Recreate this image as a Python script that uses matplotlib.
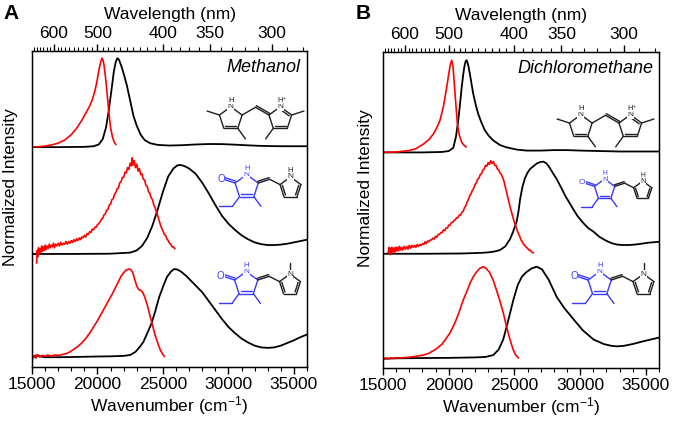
"""Absorption / emission spectra of dipyrrin and pyrrolinone-pyrrole dyes in two solvents."""

import matplotlib

matplotlib.use("Agg")
import matplotlib.pyplot as plt
import numpy as np
from matplotlib.ticker import MultipleLocator, FixedLocator

plt.rcParams["font.family"] = ["Liberation Sans", "DejaVu Sans"]
plt.rcParams["mathtext.fontset"] = "custom"
plt.rcParams["mathtext.rm"] = "Liberation Sans"
plt.rcParams["mathtext.default"] = "regular"

# ---------------------------------------------------------------- data
# wavenumber (cm-1), normalized intensity
nm_major = [600, 500, 400, 350, 300]
nm_minor = list(range(280, 680, 10))

# Panel A: methanol
a_top_em = np.array([
    [15000, 0.0], [15500, 0.005], [16000, 0.012], [16500, 0.025], [17000, 0.045],
    [17500, 0.08], [18000, 0.14], [18400, 0.21], [18800, 0.30], [19100, 0.38],
    [19400, 0.46], [19600, 0.53], [19800, 0.63], [19950, 0.73], [20100, 0.86],
    [20250, 0.96], [20350, 1.0], [20420, 0.98], [20500, 0.92], [20600, 0.80],
    [20700, 0.66], [20800, 0.50], [20900, 0.35], [21000, 0.22], [21150, 0.11],
    [21300, 0.05], [21400, 0.03],
])
a_top_abs = np.array([
    [15000, 0.0], [17000, 0.0], [19000, 0.003], [19700, 0.01], [20100, 0.03],
    [20400, 0.09], [20650, 0.22], [20850, 0.40], [21050, 0.62], [21250, 0.85],
    [21400, 0.96], [21520, 1.0], [21650, 0.98], [21850, 0.90], [22050, 0.80],
    [22250, 0.69], [22500, 0.52], [22750, 0.35], [23000, 0.24], [23300, 0.14],
    [23600, 0.08], [24000, 0.045], [24600, 0.025], [25500, 0.018], [26500, 0.022],
    [27500, 0.03], [28500, 0.035], [29500, 0.034], [30500, 0.028], [31500, 0.02],
    [32500, 0.014], [33500, 0.011], [34500, 0.01], [36000, 0.01],
])
a_mid_em = np.array([
    [15350, -0.10], [15400, 0.04], [15450, -0.03], [15500, 0.07], [15560, 0.00],
    [15620, 0.06], [15680, 0.02], [15740, 0.09], [15800, 0.03], [15870, 0.08],
    [15940, 0.04], [16000, 0.10], [16080, 0.05], [16160, 0.09], [16240, 0.06],
    [16320, 0.11], [16400, 0.07], [16480, 0.10], [16560, 0.08], [16640, 0.12],
    [16720, 0.07], [16800, 0.11], [16900, 0.09], [17000, 0.12], [17100, 0.09],
    [17200, 0.13], [17300, 0.10], [17400, 0.12], [17500, 0.11], [17600, 0.14],
    [17700, 0.11], [17800, 0.14], [17900, 0.12], [18000, 0.15], [18100, 0.13],
    [18200, 0.16], [18300, 0.14], [18400, 0.17], [18500, 0.15], [18600, 0.18],
    [18700, 0.16], [18800, 0.19], [18900, 0.18], [19000, 0.21], [19100, 0.19],
    [19200, 0.23], [19300, 0.22], [19400, 0.25], [19500, 0.24], [19600, 0.28],
    [19700, 0.27], [19800, 0.30], [19900, 0.30], [20000, 0.33], [20100, 0.34],
    [20200, 0.36], [20300, 0.39], [20400, 0.40], [20500, 0.44], [20600, 0.45],
    [20700, 0.49], [20800, 0.50], [20900, 0.55], [21000, 0.56], [21100, 0.61],
    [21200, 0.62], [21300, 0.67], [21400, 0.69], [21500, 0.73], [21600, 0.74],
    [21700, 0.80], [21800, 0.81], [21900, 0.86], [22000, 0.86], [22100, 0.92],
    [22200, 0.91], [22300, 0.97], [22400, 0.95], [22500, 1.02], [22600, 0.99],
    [22650, 1.08], [22700, 1.00], [22800, 1.05], [22900, 0.97], [23000, 1.01],
    [23100, 0.93], [23200, 0.96], [23300, 0.89], [23400, 0.90], [23500, 0.84],
    [23600, 0.83], [23700, 0.77], [23800, 0.76], [23900, 0.70], [24000, 0.68],
    [24100, 0.63], [24200, 0.61], [24300, 0.55], [24400, 0.52], [24500, 0.47],
    [24600, 0.43], [24700, 0.38], [24800, 0.33], [24900, 0.29], [25000, 0.26],
    [25100, 0.22], [25200, 0.21], [25300, 0.17], [25400, 0.15], [25500, 0.12],
    [25600, 0.11], [25700, 0.08], [25800, 0.08], [25900, 0.06],
])
a_mid_abs = np.array([
    [15000, 0.0], [18000, 0.0], [21000, 0.003], [22500, 0.015], [23000, 0.04],
    [23400, 0.09], [23800, 0.18], [24200, 0.32], [24600, 0.50], [25000, 0.70],
    [25400, 0.87], [25800, 0.96], [26100, 0.995], [26300, 1.0], [26600, 0.99],
    [27000, 0.96], [27500, 0.90], [28000, 0.80], [28500, 0.68], [29000, 0.55],
    [29500, 0.43], [30000, 0.34], [30500, 0.27], [31000, 0.21], [31500, 0.165],
    [32000, 0.13], [32500, 0.11], [33000, 0.10], [33500, 0.10], [34000, 0.105],
    [34500, 0.115], [35000, 0.13], [35500, 0.145], [36000, 0.16],
])
a_bot_em = np.array([
    [15000, -0.02], [15150, 0.03], [15300, 0.0], [15450, 0.04], [15600, 0.01],
    [15800, 0.03], [16000, 0.02], [16200, 0.035], [16400, 0.025], [16600, 0.03],
    [16800, 0.035], [17000, 0.03], [17300, 0.04], [17600, 0.05], [17900, 0.07],
    [18200, 0.10], [18500, 0.13], [18800, 0.17], [19100, 0.22], [19400, 0.28],
    [19700, 0.35], [20000, 0.42], [20300, 0.50], [20600, 0.58], [20900, 0.66],
    [21200, 0.74], [21500, 0.83], [21800, 0.92], [22000, 0.96], [22200, 0.99],
    [22400, 1.0], [22550, 0.995], [22700, 0.96], [22850, 0.88], [23000, 0.81],
    [23150, 0.77], [23300, 0.76], [23450, 0.74], [23600, 0.69], [23800, 0.60],
    [24000, 0.48], [24200, 0.37], [24400, 0.26], [24600, 0.17], [24800, 0.09],
    [25000, 0.04], [25100, 0.02],
])
a_bot_abs = np.array([
    [15000, 0.0], [15300, 0.03], [16000, 0.01], [17000, 0.01], [18000, 0.012],
    [19000, 0.015], [20000, 0.018], [21000, 0.02], [22000, 0.025], [22500, 0.035],
    [22900, 0.07], [23200, 0.12], [23500, 0.18], [23800, 0.28], [24100, 0.38],
    [24400, 0.52], [24700, 0.68], [25000, 0.80], [25300, 0.91], [25600, 0.97],
    [25850, 1.0], [26100, 0.995], [26400, 0.97], [26800, 0.92], [27200, 0.86],
    [27600, 0.80], [28000, 0.74], [28500, 0.64], [29000, 0.54], [29500, 0.44],
    [30000, 0.35], [30500, 0.28], [31000, 0.22], [31500, 0.175], [32000, 0.14],
    [32500, 0.12], [33000, 0.115], [33500, 0.12], [34000, 0.14], [34500, 0.17],
    [35000, 0.20], [35500, 0.235], [36000, 0.265],
])

# Panel B: dichloromethane
b_top_em = np.array([
    [15000, 0.0], [16000, 0.005], [17000, 0.02], [17500, 0.04], [18070, 0.09],
    [18500, 0.14], [18830, 0.20], [19100, 0.27], [19340, 0.35], [19600, 0.50],
    [19850, 0.71], [20000, 0.85], [20130, 0.96], [20230, 1.0], [20330, 0.93],
    [20480, 0.64], [20660, 0.31], [20800, 0.19], [20990, 0.11], [21150, 0.08],
    [21320, 0.06],
])
b_top_abs = np.array([
    [15000, 0.0], [18000, 0.0], [19500, 0.005], [20000, 0.015], [20350, 0.05],
    [20550, 0.17], [20730, 0.35], [20870, 0.54], [20990, 0.71], [21100, 0.84],
    [21190, 0.93], [21290, 0.99], [21370, 1.0], [21480, 0.95], [21600, 0.86],
    [21730, 0.75], [21860, 0.64], [22050, 0.52], [22240, 0.42], [22500, 0.32],
    [22750, 0.24], [23050, 0.18], [23390, 0.13], [23900, 0.08], [24400, 0.055],
    [25200, 0.03], [25930, 0.02], [27000, 0.02], [28000, 0.025], [29000, 0.025],
    [30000, 0.02], [31500, 0.015], [33000, 0.01], [36000, 0.01],
])
b_mid_em = np.array([
    [15400, 0.02], [15450, 0.07], [15500, -0.01], [15560, 0.06], [15620, 0.01],
    [15680, 0.07], [15740, 0.02], [15800, 0.06], [15870, 0.01], [15940, 0.07],
    [16000, 0.03], [16080, 0.07], [16160, 0.03], [16240, 0.08], [16320, 0.04],
    [16400, 0.07], [16500, 0.04], [16600, 0.08], [16700, 0.05], [16800, 0.08],
    [16900, 0.05], [17000, 0.09], [17100, 0.06], [17200, 0.09], [17300, 0.07],
    [17400, 0.09], [17500, 0.07], [17600, 0.10], [17700, 0.08], [17800, 0.10],
    [17900, 0.09], [18000, 0.11], [18100, 0.10], [18200, 0.13], [18300, 0.11],
    [18400, 0.14], [18500, 0.13], [18600, 0.15], [18700, 0.15], [18800, 0.17],
    [18900, 0.16], [19000, 0.19], [19100, 0.18], [19200, 0.21], [19300, 0.21],
    [19400, 0.23], [19500, 0.23], [19600, 0.26], [19700, 0.25], [19800, 0.28],
    [19900, 0.28], [20000, 0.31], [20100, 0.31], [20200, 0.34], [20300, 0.34],
    [20400, 0.36], [20500, 0.37], [20600, 0.39], [20700, 0.39], [20800, 0.42],
    [20900, 0.42], [21000, 0.45], [21100, 0.46], [21200, 0.50], [21300, 0.52],
    [21400, 0.56], [21500, 0.59], [21600, 0.63], [21700, 0.65], [21800, 0.69],
    [21900, 0.71], [22000, 0.75], [22100, 0.77], [22200, 0.81], [22300, 0.82],
    [22400, 0.86], [22500, 0.87], [22600, 0.91], [22700, 0.92], [22800, 0.96],
    [22900, 0.95], [23000, 0.99], [23100, 0.97], [23200, 1.01], [23300, 0.98],
    [23400, 1.00], [23500, 0.96], [23600, 0.96], [23700, 0.92], [23800, 0.91],
    [23900, 0.88], [24000, 0.86], [24100, 0.83], [24200, 0.79], [24300, 0.73],
    [24400, 0.67], [24500, 0.61], [24600, 0.55], [24700, 0.49], [24800, 0.44],
    [24900, 0.39], [25000, 0.34], [25100, 0.30], [25200, 0.26], [25300, 0.22],
    [25400, 0.19], [25500, 0.15], [25600, 0.13], [25700, 0.10], [25800, 0.09],
    [25900, 0.07], [26000, 0.06], [26100, 0.04], [26200, 0.04], [26300, 0.02],
    [26440, 0.01],
])
b_mid_abs = np.array([
    [15000, 0.0], [18000, 0.0], [21000, 0.003], [22500, 0.01], [23000, 0.015],
    [23500, 0.025], [23900, 0.04], [24300, 0.08], [24670, 0.16], [24900, 0.24],
    [25170, 0.35], [25300, 0.45], [25430, 0.59], [25600, 0.72], [25800, 0.82],
    [26000, 0.88], [26190, 0.92], [26450, 0.95], [26700, 0.98], [26950, 0.995],
    [27200, 1.0], [27450, 0.98], [27700, 0.93], [27950, 0.87], [28220, 0.81],
    [28550, 0.72], [28900, 0.62], [29200, 0.55], [29490, 0.48], [29800, 0.41],
    [30200, 0.34], [30600, 0.28], [31010, 0.24], [31500, 0.18], [32000, 0.14],
    [32400, 0.115], [32790, 0.10], [33200, 0.095], [33700, 0.095], [34200, 0.10],
    [34700, 0.11], [35200, 0.12], [35600, 0.125], [36000, 0.13],
])
b_bot_em = np.array([
    [15000, -0.01], [15200, 0.01], [15400, 0.0], [15600, 0.01], [15800, 0.005],
    [16000, 0.01], [16400, 0.01], [16800, 0.015], [17200, 0.02], [17600, 0.03],
    [18070, 0.04], [18500, 0.06], [19085, 0.11], [19500, 0.16], [20100, 0.28],
    [20500, 0.40], [20800, 0.51], [21110, 0.64], [21400, 0.74], [21650, 0.83],
    [21870, 0.89], [22100, 0.94], [22350, 0.98], [22630, 1.0], [22850, 0.98],
    [23100, 0.94], [23390, 0.85], [23600, 0.76], [23850, 0.65], [24150, 0.50],
    [24400, 0.35], [24660, 0.21], [24900, 0.10], [25100, 0.04], [25300, 0.01],
])
b_bot_abs = np.array([
    [15000, 0.0], [16000, 0.005], [18000, 0.008], [20000, 0.01], [22000, 0.015],
    [22800, 0.02], [23390, 0.04], [23800, 0.10], [24150, 0.21], [24500, 0.40],
    [24920, 0.64], [25250, 0.80], [25560, 0.89], [25900, 0.94], [26300, 0.98],
    [26700, 1.0], [27100, 0.97], [27600, 0.86], [28220, 0.67], [28800, 0.55],
    [29490, 0.43], [30200, 0.31], [31010, 0.21], [31800, 0.16], [32400, 0.14],
    [32790, 0.135], [33300, 0.14], [34000, 0.16], [34800, 0.19], [35400, 0.21],
    [36000, 0.23],
])

offsets_a = [0.0, 1.17, 2.37]
offsets_b = [0.0, 1.14, 2.24]

RED = "#ff0000"
BLUE = "#3a3aff"
DARK = "#1e1e1e"


# ---------------------------------------------------------------- structures
def pentagon(cx, cy, r):
    """Vertices top, upper-right, lower-right, lower-left, upper-left (y down)."""
    return [
        (cx, cy - r),
        (cx + 0.951 * r, cy - 0.309 * r),
        (cx + 0.588 * r, cy + 0.809 * r),
        (cx - 0.588 * r, cy + 0.809 * r),
        (cx - 0.951 * r, cy - 0.309 * r),
    ]


class Sketch:
    def __init__(self, ax, ox, oy, s=1.0):
        self.ax, self.ox, self.oy, self.s = ax, ox, oy, s

    def p(self, pt):
        return (self.ox + self.s * pt[0], self.oy + self.s * pt[1])

    def bond(self, a, b, color=DARK):
        a, b = self.p(a), self.p(b)
        self.ax.plot([a[0], b[0]], [a[1], b[1]], color=color, lw=1.0,
                     solid_capstyle="round", zorder=2)

    def inner(self, a, b, c, color=DARK, k=0.22):
        a2 = (a[0] + (c[0] - a[0]) * k, a[1] + (c[1] - a[1]) * k)
        b2 = (b[0] + (c[0] - b[0]) * k, b[1] + (c[1] - b[1]) * k)
        self.bond(a2, b2, color)

    def side(self, a, b, color=DARK, d=2.0):
        dx, dy = b[0] - a[0], b[1] - a[1]
        n = np.hypot(dx, dy)
        nx, ny = -dy / n * d, dx / n * d
        self.bond((a[0] + nx, a[1] + ny), (b[0] + nx, b[1] + ny), color)

    def atom(self, pt, txt, color=DARK, size=6):
        x, y = self.p(pt)
        self.ax.text(x, y, txt, color=color, fontsize=size * self.s, ha="center",
                     va="center", zorder=3,
                     bbox=dict(boxstyle="square,pad=0.05", fc="white", ec="none"))


def out(v, c, length):
    d = np.array(v) - np.array(c)
    d = d / np.hypot(*d)
    return (v[0] + d[0] * length, v[1] + d[1] * length)


def draw_dipyrrin(ax, ox, oy, s=1.0):
    sk = Sketch(ax, ox, oy, s)
    cl, cr = (30.8, 33.7), (80.3, 33.7)
    n1, c2, c3, c4, c5 = pentagon(*cl, 11.9)
    n1r, c5r, c4r, c3r, c2r = pentagon(*cr, 11.9)
    for a, b in [(n1, c2), (c2, c3), (c3, c4), (c4, c5), (c5, n1)]:
        sk.bond(a, b)
    for a, b in [(n1r, c2r), (c2r, c3r), (c3r, c4r), (c4r, c5r), (c5r, n1r)]:
        sk.bond(a, b)
    sk.inner(c3, c4, cl)
    sk.inner(c3r, c4r, cr)
    sk.inner(c5r, n1r, cr)
    bridge = (55.5, 22.3)
    sk.bond(c2, bridge)
    sk.bond(bridge, c2r)
    sk.side(bridge, c2r, d=-1.8)
    sk.bond(c5, out(c5, cl, 13))
    sk.bond(c3, out(c3, cl, 13))
    sk.bond(c5r, out(c5r, cr, 13))
    sk.bond(c3r, out(c3r, cr, 13))
    sk.atom(n1, "N")
    sk.atom(n1r, "N")
    sk.atom((n1[0], n1[1] - 6.5), "H", size=5.5)
    sk.atom((n1r[0], n1r[1] - 6.5), "H", size=5.5)
    x, y = sk.p((n1r[0] + 4, n1r[1] - 8.5))
    ax.text(x, y, "+", fontsize=4 * s, color=DARK, ha="center", va="center", zorder=3)


def draw_pyrrolinone(ax, ox, oy, s=1.0, n_methyl=False):
    sk = Sketch(ax, ox, oy, s)
    cl, cr = (46.7, 31.8), (90.5, 33.0)
    n1, c5, c4, c3, c2 = pentagon(*cl, 12.2)
    pn, p5, p4, p3, p2 = pentagon(*cr, 11.0)
    for a, b in [(n1, c2), (c2, c3), (c3, c4), (c4, c5), (c5, n1)]:
        sk.bond(a, b, BLUE)
    sk.inner(c3, c4, cl, BLUE)
    oxy = out(c2, cl, 12)
    sk.bond(c2, oxy, BLUE)
    sk.side(c2, oxy, BLUE, d=2.0)
    et1 = out(c3, cl, 12)
    sk.bond(c3, et1, BLUE)
    sk.bond(et1, (et1[0] - 13, et1[1]), BLUE)
    sk.bond(c4, out(c4, cl, 12), BLUE)
    ch = out(c5, cl, 12)
    sk.bond(c5, ch)
    sk.side(c5, ch, d=-1.8)
    sk.bond(ch, p2)
    for a, b in [(pn, p2), (p2, p3), (p3, p4), (p4, p5), (p5, pn)]:
        sk.bond(a, b)
    sk.inner(p2, p3, cr)
    sk.inner(p4, p5, cr)
    sk.atom((oxy[0] - 2.5, oxy[1] - 0.5), "O", BLUE, size=7)
    sk.atom(n1, "N", BLUE)
    sk.atom((n1[0], n1[1] - 6.5), "H", BLUE, size=5.5)
    if n_methyl:
        sk.bond(pn, (pn[0], pn[1] - 11))
    else:
        sk.atom((pn[0], pn[1] - 6.5), "H", size=5.5)
    sk.atom(pn, "N")


# ---------------------------------------------------------------- figure
fig = plt.figure(figsize=(6.78, 4.24), dpi=100)
ax_a = fig.add_axes([32 / 678, 57 / 424, 275 / 678, 316 / 424])
ax_b = fig.add_axes([383 / 678, 56 / 424, 276 / 678, 316 / 424])


def setup_panel(ax, ylim, solvent, solvent_x, ylab_x):
    ax.set_xlim(15000, 36000)
    ax.set_ylim(*ylim)
    ax.set_yticks([])
    ax.xaxis.set_major_locator(MultipleLocator(5000))
    ax.xaxis.set_minor_locator(MultipleLocator(1000))
    ax.tick_params(axis="x", which="major", direction="out", length=5, width=1,
                   labelsize=12.5, pad=2)
    ax.tick_params(axis="x", which="minor", direction="out", length=3, width=0.8)
    ax.set_xlabel("Wavenumber (cm$^{-1}$)", fontsize=12.5, labelpad=2)
    ax.set_ylabel("Normalized Intensity", fontsize=12.5)
    ax.yaxis.set_label_coords(ylab_x, 0.57)
    for sp in ax.spines.values():
        sp.set_linewidth(1.0)

    top = ax.twiny()
    top.set_xlim(15000, 36000)
    top.xaxis.set_major_locator(FixedLocator([1e7 / v for v in nm_major]))
    top.set_xticklabels([str(v) for v in nm_major])
    top.xaxis.set_minor_locator(FixedLocator([1e7 / v for v in nm_minor]))
    top.tick_params(axis="x", which="major", direction="out", length=5, width=1,
                    labelsize=12.5, pad=2)
    top.tick_params(axis="x", which="minor", direction="out", length=3, width=0.8)
    top.set_xlabel("Wavelength (nm)", fontsize=12.5, labelpad=5)

    ax.text(solvent_x, 0.947, solvent, transform=ax.transAxes, fontsize=13,
            style="italic", ha="right", va="center")


setup_panel(ax_a, (-0.1, 3.45), "Methanol", 0.975, -0.052)
setup_panel(ax_b, (-0.1, 3.33), "Dichloromethane", 0.979, -0.036)

for ax, offs, sets in [
    (ax_a, offsets_a, [(a_bot_abs, a_bot_em), (a_mid_abs, a_mid_em), (a_top_abs, a_top_em)]),
    (ax_b, offsets_b, [(b_bot_abs, b_bot_em), (b_mid_abs, b_mid_em), (b_top_abs, b_top_em)]),
]:
    for off, (absorb, emit) in zip(offs, sets):
        ax.plot(absorb[:, 0], absorb[:, 1] + off, color="black", lw=1.3)
        ax.plot(emit[:, 0], emit[:, 1] + off, color=RED, lw=1.2)

fig.text(3 / 678, 1 - 4 / 424, "A", fontsize=15, weight="bold", ha="left", va="top")
fig.text(356 / 678, 1 - 4 / 424, "B", fontsize=15, weight="bold", ha="left", va="top")

# overlay in pixel coordinates for the molecule sketches
ov = fig.add_axes([0, 0, 1, 1], zorder=5)
ov.set_xlim(0, 678)
ov.set_ylim(424, 0)
ov.axis("off")
ov.patch.set_alpha(0)

draw_dipyrrin(ov, 200, 85)
draw_pyrrolinone(ov, 200, 155)
draw_pyrrolinone(ov, 199.5, 252, n_methyl=True)
draw_dipyrrin(ov, 550, 93)
draw_pyrrolinone(ov, 564, 162, s=0.87)
draw_pyrrolinone(ov, 553, 252, n_methyl=True)

fig.savefig("out.png", dpi=100)
